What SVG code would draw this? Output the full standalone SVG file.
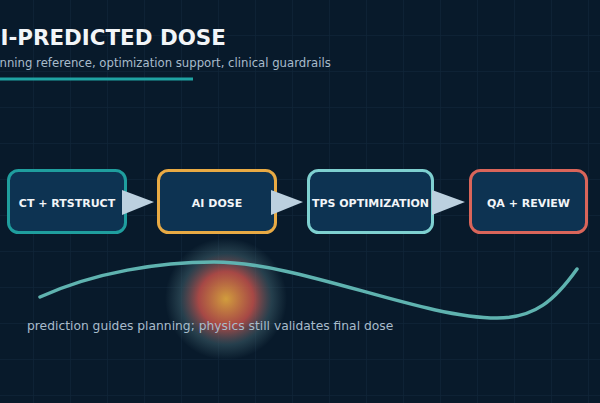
<svg xmlns="http://www.w3.org/2000/svg" width="600" height="403" viewBox="0 0 600 403">
  <defs>
    <pattern id="grid" x="33" y="-1" width="37" height="36" patternUnits="userSpaceOnUse">
      <path d="M0,0 H37 M0,0 V36" fill="none" stroke="#0f2537" stroke-width="1.5"/>
    </pattern>
    <radialGradient id="glow" cx="0.5" cy="0.5" r="0.5">
      <stop offset="0" stop-color="#dca43e" stop-opacity="0.95"/>
      <stop offset="0.45" stop-color="#c2504a" stop-opacity="0.85"/>
      <stop offset="0.75" stop-color="#3d5d68" stop-opacity="0.55"/>
      <stop offset="1" stop-color="#3d5d68" stop-opacity="0"/>
    </radialGradient>
    <style>
      .node rect { fill: #0d3352; stroke-width: 3; }
      .node text { font-family: "DejaVu Sans", sans-serif; font-weight: bold; font-size: 11px; fill: #f2f5f8; text-anchor: middle; }
      .arrow { fill: #bcd0df; }
      .muted { font-family: "DejaVu Sans", sans-serif; fill: #a8bccb; }
    </style>
  </defs>
  <rect width="600" height="403" fill="#081a2b"/>
  <rect width="600" height="403" fill="url(#grid)"/>

  <text x="0.5" y="45" font-family="DejaVu Sans, sans-serif" font-weight="bold" font-size="21.4" fill="#f2f5f8">I-PREDICTED DOSE</text>
  <text x="-0.5" y="67" class="muted" font-size="11.7">nning reference, optimization support, clinical guardrails</text>
  <line x1="0" y1="79" x2="193" y2="79" stroke="#1fa3a3" stroke-width="3"/>

  <circle cx="226" cy="299" r="61" fill="url(#glow)"/>
  <path d="M40,297 C95,272 160,262 214,262 C300,262 420,318 497,318 C535,318 555,300 577,269" fill="none" stroke="#5fb3b0" stroke-width="3.5" stroke-linecap="round"/>
  <text x="27" y="330" class="muted" font-size="12.3">prediction guides planning; physics still validates final dose</text>

  <g id="node-ct" class="node">
    <rect x="8.5" y="170.5" width="117" height="62" rx="10" stroke="#1f9e9e"/>
    <text x="67" y="207">CT + RTSTRUCT</text>
  </g>
  <g id="node-ai" class="node">
    <rect x="158.5" y="170.5" width="117" height="62" rx="10" stroke="#e8aa44"/>
    <text x="217" y="207">AI DOSE</text>
  </g>
  <g id="node-tps" class="node">
    <rect x="308.5" y="170.5" width="124" height="62" rx="10" stroke="#7ed0d0"/>
    <text x="370.5" y="207">TPS OPTIMIZATION</text>
  </g>
  <g id="node-qa" class="node">
    <rect x="470.5" y="170.5" width="116" height="62" rx="10" stroke="#d9655a"/>
    <text x="528.5" y="207">QA + REVIEW</text>
  </g>

  <g id="connectors">
    <polygon class="arrow" points="122,190 154,202 122,215"/>
    <polygon class="arrow" points="271,190 303,202 271,215"/>
    <polygon class="arrow" points="432,190 465,202 432,215"/>
  </g>
</svg>
